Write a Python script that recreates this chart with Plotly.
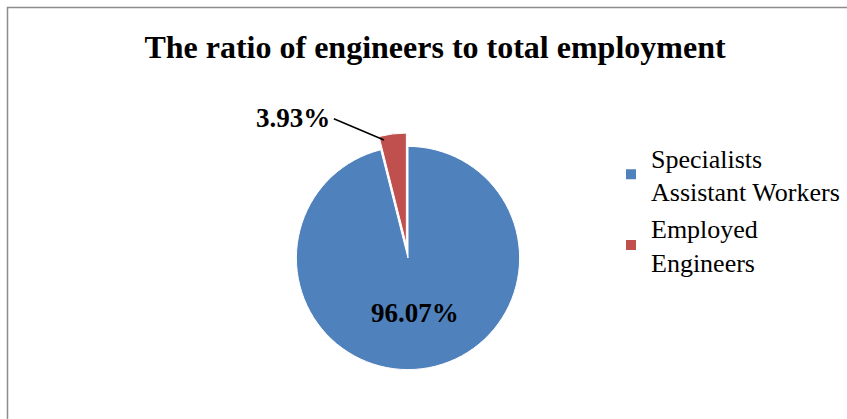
import plotly.graph_objects as go

categories = ["Specialists<br>Assistant Workers", "Employed<br>Engineers"]
values = [96.07, 3.93]
labels_text = ["96.07%", "3.93%"]
colors = ["#4F81BD", "#C0504D"]

W, H = 847, 419
cx, cy, r = 408, 258, 125

fig = go.Figure(go.Pie(
    labels=categories,
    values=values,
    text=[labels_text[0], ""],
    textinfo="text",
    textposition=["inside", "none"],
    insidetextorientation="horizontal",
    sort=False,
    direction="clockwise",
    rotation=0,
    pull=[0, 0.12],
    marker=dict(colors=colors, line=dict(color="white", width=1)),
    insidetextfont=dict(family="Liberation Serif", size=27, color="black", weight="bold"),
    domain=dict(x=[(cx - r) / W, (cx + r) / W], y=[1 - (cy + r) / H, 1 - (cy - r) / H]),
    showlegend=True,
    hoverinfo="label+percent",
))

fig.add_annotation(
    text="<b>" + labels_text[1] + "</b>",
    xref="paper", yref="paper",
    x=384 / W, y=1 - 140 / H,
    ax=-52, ay=-22, axref="pixel", ayref="pixel",
    xanchor="right", yanchor="middle",
    showarrow=True, arrowhead=0, arrowwidth=1.5, arrowcolor="black",
    standoff=0, startstandoff=2,
    font=dict(family="Liberation Serif", size=27, color="black"),
)

fig.update_layout(
    width=W, height=H,
    margin=dict(l=0, r=0, t=0, b=0),
    paper_bgcolor="white",
    title=dict(text="<b>The ratio of engineers to total employment</b>",
               x=435 / W, xanchor="center", y=1 - 47 / H, yanchor="middle",
               font=dict(family="Liberation Serif", size=32, color="black")),
    legend=dict(x=611 / W, y=1 - 134 / H, xanchor="left", yanchor="top",
                font=dict(family="Liberation Serif", size=26, color="black"),
                itemsizing="constant", traceorder="normal"),
    shapes=[dict(type="rect", xref="paper", yref="paper",
                 x0=7.5 / W, x1=1.02, y0=-0.02, y1=1 - 7.5 / H,
                 line=dict(color="#8c8c8c", width=1.5), layer="below")],
)

fig.write_html("out.html")
